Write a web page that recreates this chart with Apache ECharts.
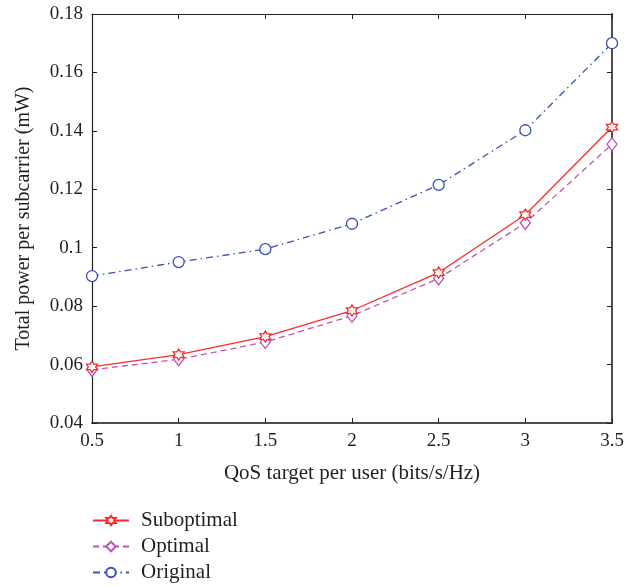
<!DOCTYPE html>
<html>
<head>
<meta charset="utf-8">
<script src="https://cdn.jsdelivr.net/npm/echarts@6/dist/echarts.min.js"></script>
<style>
  html, body { margin: 0; padding: 0; background: #fff; }
  #main { width: 642px; height: 586px; }
</style>
</head>
<body>
<div id="main"></div>
<script>
// values
var qos = [0.5, 1, 1.5, 2, 2.5, 3, 3.5];
var suboptimal = [0.0592, 0.0634, 0.0696, 0.0785, 0.0915, 0.1113, 0.1413];
var optimal = [0.0582, 0.0618, 0.0677, 0.0767, 0.0895, 0.1085, 0.1354];
var original = [0.0903, 0.0951, 0.0995, 0.1082, 0.1215, 0.1402, 0.1700];

var names = ['Suboptimal', 'Optimal', 'Original'];

function pairs(ys) {
  var out = [];
  for (var i = 0; i < qos.length; i++) out.push([qos[i], ys[i]]);
  return out;
}

var font = '"Liberation Serif", "DejaVu Serif", serif';
var ink = '#231f20';
var hexagram = 'path://M0,-10L2.887,-5L8.66,-5L5.774,0L8.66,5L2.887,5L0,10L-2.887,5L-8.66,5L-5.774,0L-8.66,-5L-2.887,-5Z';

var myChart = echarts.init(document.getElementById('main'));

var frameTick = { show: true, inside: true, length: 5, lineStyle: { color: ink, width: 1 } };

var option = {
  animation: false,
  backgroundColor: '#fff',
  grid: { left: 92, right: 30, top: 14, bottom: 163 },
  legend: {
    orient: 'vertical',
    left: 92,
    top: 510,
    height: 120,
    padding: 0,
    itemWidth: 36,
    itemHeight: 12,
    itemGap: 5,
    textStyle: { fontFamily: font, fontSize: 21, color: ink, padding: [0, 0, 0, 7] },
    data: names
  },
  xAxis: [{
    type: 'value',
    min: 0.5, max: 3.5, interval: 0.5,
    name: 'QoS target per user (bits/s/Hz)',
    nameLocation: 'middle',
    nameGap: 40,
    nameTextStyle: { fontFamily: font, fontSize: 21, color: ink },
    axisLine: { show: true, onZero: false, lineStyle: { color: '#4d4d4d', width: 2 } },
    axisTick: frameTick,
    axisLabel: { fontFamily: font, fontSize: 19, color: ink, margin: 9 },
    splitLine: { show: false }
  }, {
    type: 'value', position: 'top',
    min: 0.5, max: 3.5, interval: 0.5,
    axisLine: { show: true, onZero: false, lineStyle: { color: ink, width: 1.2 } },
    axisTick: frameTick,
    axisLabel: { show: false },
    splitLine: { show: false }
  }],
  yAxis: [{
    type: 'value',
    min: 0.04, max: 0.18, interval: 0.02,
    name: 'Total power per subcarrier (mW)',
    nameLocation: 'middle',
    nameGap: 58,
    nameTextStyle: { fontFamily: font, fontSize: 20, color: ink },
    axisLine: { show: true, onZero: false, lineStyle: { color: ink, width: 1.2 } },
    axisTick: frameTick,
    axisLabel: { fontFamily: font, fontSize: 19, color: ink, margin: 9 },
    splitLine: { show: false }
  }, {
    type: 'value', position: 'right',
    min: 0.04, max: 0.18, interval: 0.02,
    axisLine: { show: true, onZero: false, lineStyle: { color: '#4d4d4d', width: 2 } },
    axisTick: frameTick,
    axisLabel: { show: false },
    splitLine: { show: false }
  }],
  series: [{
    name: names[0],
    type: 'line',
    data: pairs(suboptimal),
    symbol: hexagram,
    symbolSize: 11,
    lineStyle: { color: '#ff2a2a', width: 1.3, type: 'solid' },
    itemStyle: { color: '#fff', borderColor: '#ff2a2a', borderWidth: 1.3 },
    z: 4
  }, {
    name: names[1],
    type: 'line',
    data: pairs(optimal),
    symbol: 'diamond',
    symbolSize: [10, 13],
    lineStyle: { color: '#c052b8', width: 1.3, type: [6, 4] },
    itemStyle: { color: '#fff', borderColor: '#c052b8', borderWidth: 1.3 },
    z: 3
  }, {
    name: names[2],
    type: 'line',
    data: pairs(original),
    symbol: 'circle',
    symbolSize: 11,
    lineStyle: { color: '#3653ad', width: 1.3, type: [7, 4, 1.5, 4] },
    itemStyle: { color: '#fff', borderColor: '#3653ad', borderWidth: 1.3 },
    z: 2
  }]
};
myChart.setOption(option);
</script>
</body>
</html>
